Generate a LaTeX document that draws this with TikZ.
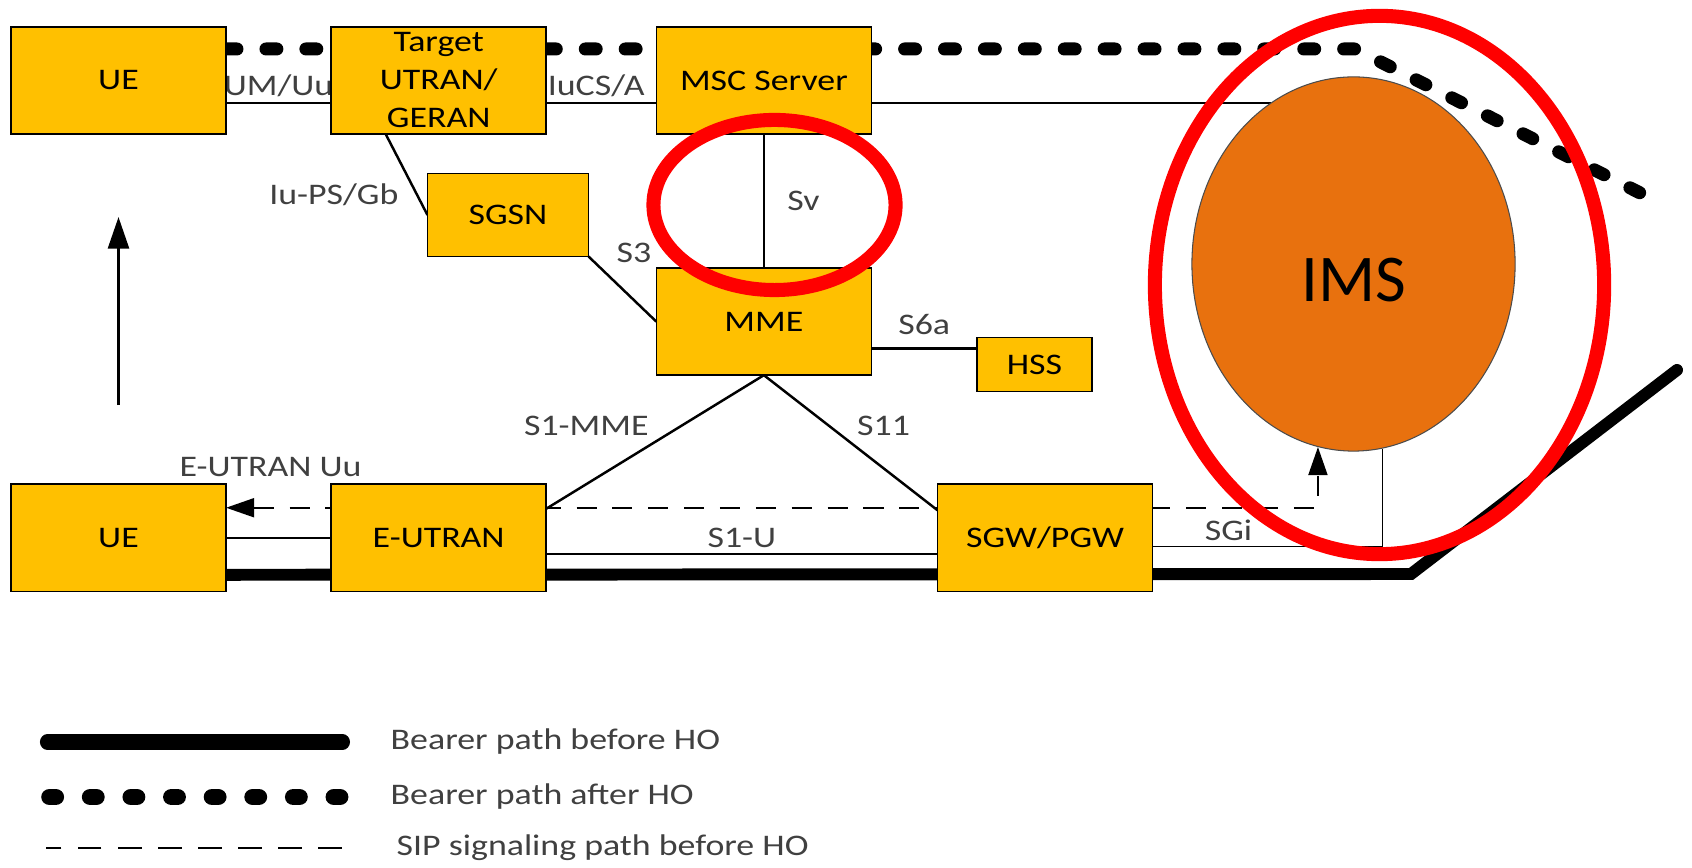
\documentclass[tikz,border=0pt]{standalone}
\usepackage{fontspec}
\setmainfont{Carlito}[FakeStretch=1.2]
\newfontfamily\imsfont{Carlito}
\usetikzlibrary{shapes.geometric, arrows.meta, positioning, backgrounds}

\definecolor{boxgold}{RGB}{255,192,0}
\definecolor{imsorange}{RGB}{232,113,14}
\definecolor{lblgray}{RGB}{64,64,64}

\begin{document}
\begin{tikzpicture}[
        x=0.01cm, y=-0.01cm,
        node distance=1.05cm and 1.05cm,
        box/.style={rectangle, draw, line width=0.45pt, fill=boxgold, minimum width=2.15cm, minimum height=1.07cm, inner sep=0pt, outer sep=0pt, align=center, font=\fontsize{8.5}{10.8}\selectfont},
        smallbox/.style={box, minimum width=1.61cm, minimum height=0.83cm},
        ims/.style={ellipse, draw=black!70, line width=0.3pt, fill=imsorange, minimum width=3.23cm, minimum height=3.74cm, inner sep=0pt},
        lbl/.style={font=\fontsize{8.5}{10}\selectfont, text=lblgray, inner sep=1.5pt},
        link/.style={line width=0.7pt},
        thinlink/.style={line width=0.4pt},
        sip/.style={line width=0.6pt, dash pattern=on 5.7pt off 4.5pt},
        sipboth/.style={{Triangle[length=8pt,width=5.4pt]}-{Triangle[length=8pt,width=5.4pt]}},
        hoarrow/.style={-{Triangle[length=9pt,width=6pt]}, line width=0.7pt},
        beforeho/.style={line width=3.4pt, line cap=round},
        afterho/.style={line width=3.7pt, line cap=round, dash pattern=on 3.1pt off 8.25pt},
        redring/.style={draw=red, line width=4pt},
        legtext/.style={font=\fontsize{8.5}{10}\selectfont, text=lblgray, anchor=west, inner sep=0pt}
    ]
        \useasboundingbox (0,0) rectangle (1692,868);

        % Row 1
        \node[box] (ue1) at (118.5,80.5) {UE};
        \node[box, right=of ue1] (target) {Target\\UTRAN/\\GERAN};
        \node[box, right=1.1cm of target] (msc) {MSC Server};

        % Core
        \node[smallbox] (sgsn) at (508,215) {SGSN};
        \node[box, below=1.34cm of msc] (mme) {MME};
        \node[box, minimum width=1.15cm, minimum height=0.54cm] (hss) at (1034.5,364.5) {HSS};
        \node[ims, label={[font=\imsfont\fontsize{19}{22}\selectfont, yshift=-0.16cm]center:IMS}] (ims) at (1353.5,264) {};

        % Row 2
        \node[box, below=3.5cm of ue1] (ue2) {UE};
        \node[box, right=of ue2] (eutran) {E-UTRAN};
        \node[box, right=3.91cm of eutran] (sgw) {SGW/PGW};

        \begin{scope}[on background layer]
            % Bearer path after HO
            \coordinate (hocorner) at (1355,49);
            \coordinate (hoend) at (1656,201);
            \draw[afterho] ([yshift=0.315cm]ue1.east) -- (hocorner) -- (hoend);

            % Bearer path before HO
            \coordinate (bhcorner) at (1411,574);
            \coordinate (bhend) at (1677,370);
            \draw[beforeho] ([yshift=-0.37cm]ue2.east) -- (bhcorner) -- (bhend);

            % SIP signaling
            \draw[sip, sipboth] ([yshift=0.3cm]ue2.east) -- node[lbl, above=0.25cm, xshift=-0.08cm] {E-UTRAN Uu} ([yshift=0.3cm]eutran.west) -- ([yshift=0.3cm]ue2.east -| ims.259) -- (ims.259);

            % Interfaces row 1
            \draw[link] ([yshift=-0.225cm]ue1.east) -- node[lbl, above] {UM/Uu} ([yshift=-0.225cm]target.west);
            \draw[link] ([yshift=-0.225cm]target.east) -- node[lbl, above, xshift=-0.05cm] {IuCS/A} ([yshift=-0.225cm]msc.west);
            \draw[link] ([yshift=-0.225cm]msc.east) -- ([yshift=-0.225cm]msc.east -| ims.117);

            % Interfaces core
            \draw[link] ([xshift=-0.53cm]target.south) -- node[lbl, left, pos=0.75, xshift=-0.12cm] {Iu-PS/Gb} (sgsn.west);
            \draw[link] (sgsn.south east) -- node[lbl, above right, pos=0.2, xshift=0.08cm] {S3} (mme.west);
            \draw[link] (msc) -- node[lbl, right=0.17cm] {Sv} (mme);
            \draw[link] ([yshift=-0.27cm]mme.east) -- node[lbl, above=0.07cm] {S6a} ([yshift=-0.27cm]mme.east -| hss.west);
            \draw[link] (mme.south) -- node[lbl, above left] {S1-MME} ([yshift=0.29cm]eutran.east);
            \draw[link] (mme.south) -- node[lbl, above right] {S11} ([yshift=0.275cm]sgw.west);

            % Interfaces row 2
            \draw[link] (ue2.east) -- (eutran.west);
            \draw[link] ([yshift=-0.16cm]eutran.east) -- node[lbl, above] {S1-U} ([yshift=-0.16cm]eutran.east -| sgw.west);
            \draw[thinlink] ([yshift=-0.085cm]sgw.east) -- node[lbl, above, pos=0.33] {SGi} ([yshift=-0.085cm]sgw.east -| ims.279) -- (ims.279);
        \end{scope}

        % Handover direction
        \draw[hoarrow, shorten <=0.79cm, shorten >=0.83cm] (ue2.north) -- (ue1.south);

        % Highlights
        \draw[redring] (774.5,205) ellipse [x radius=1.21cm, y radius=0.85cm];
        \draw[redring] (1379.5,285) ellipse [x radius=2.245cm, y radius=2.69cm];

        % Legend
        \node[legtext] (legbefore) at (390,742) {Bearer path before HO};
        \node[legtext] (legafter) at (390,797) {Bearer path after HO};
        \node[legtext] (legsip) at (396,848) {SIP signaling path before HO};
        \draw[beforeho, line width=4.3pt] ([xshift=-0.475cm]legbefore.west) -- ++(-295,0);
        \draw[afterho, line width=4.8pt, dash pattern=on 1.7pt off 9.85pt] ([xshift=-0.5cm]legafter.west) -- ++(-291,0);
        \draw[sip, dash pattern=on 6.8pt off 4.6pt] ([xshift=-0.54cm]legsip.west) -- ++(-296,0);
    \end{tikzpicture}
\end{document}
